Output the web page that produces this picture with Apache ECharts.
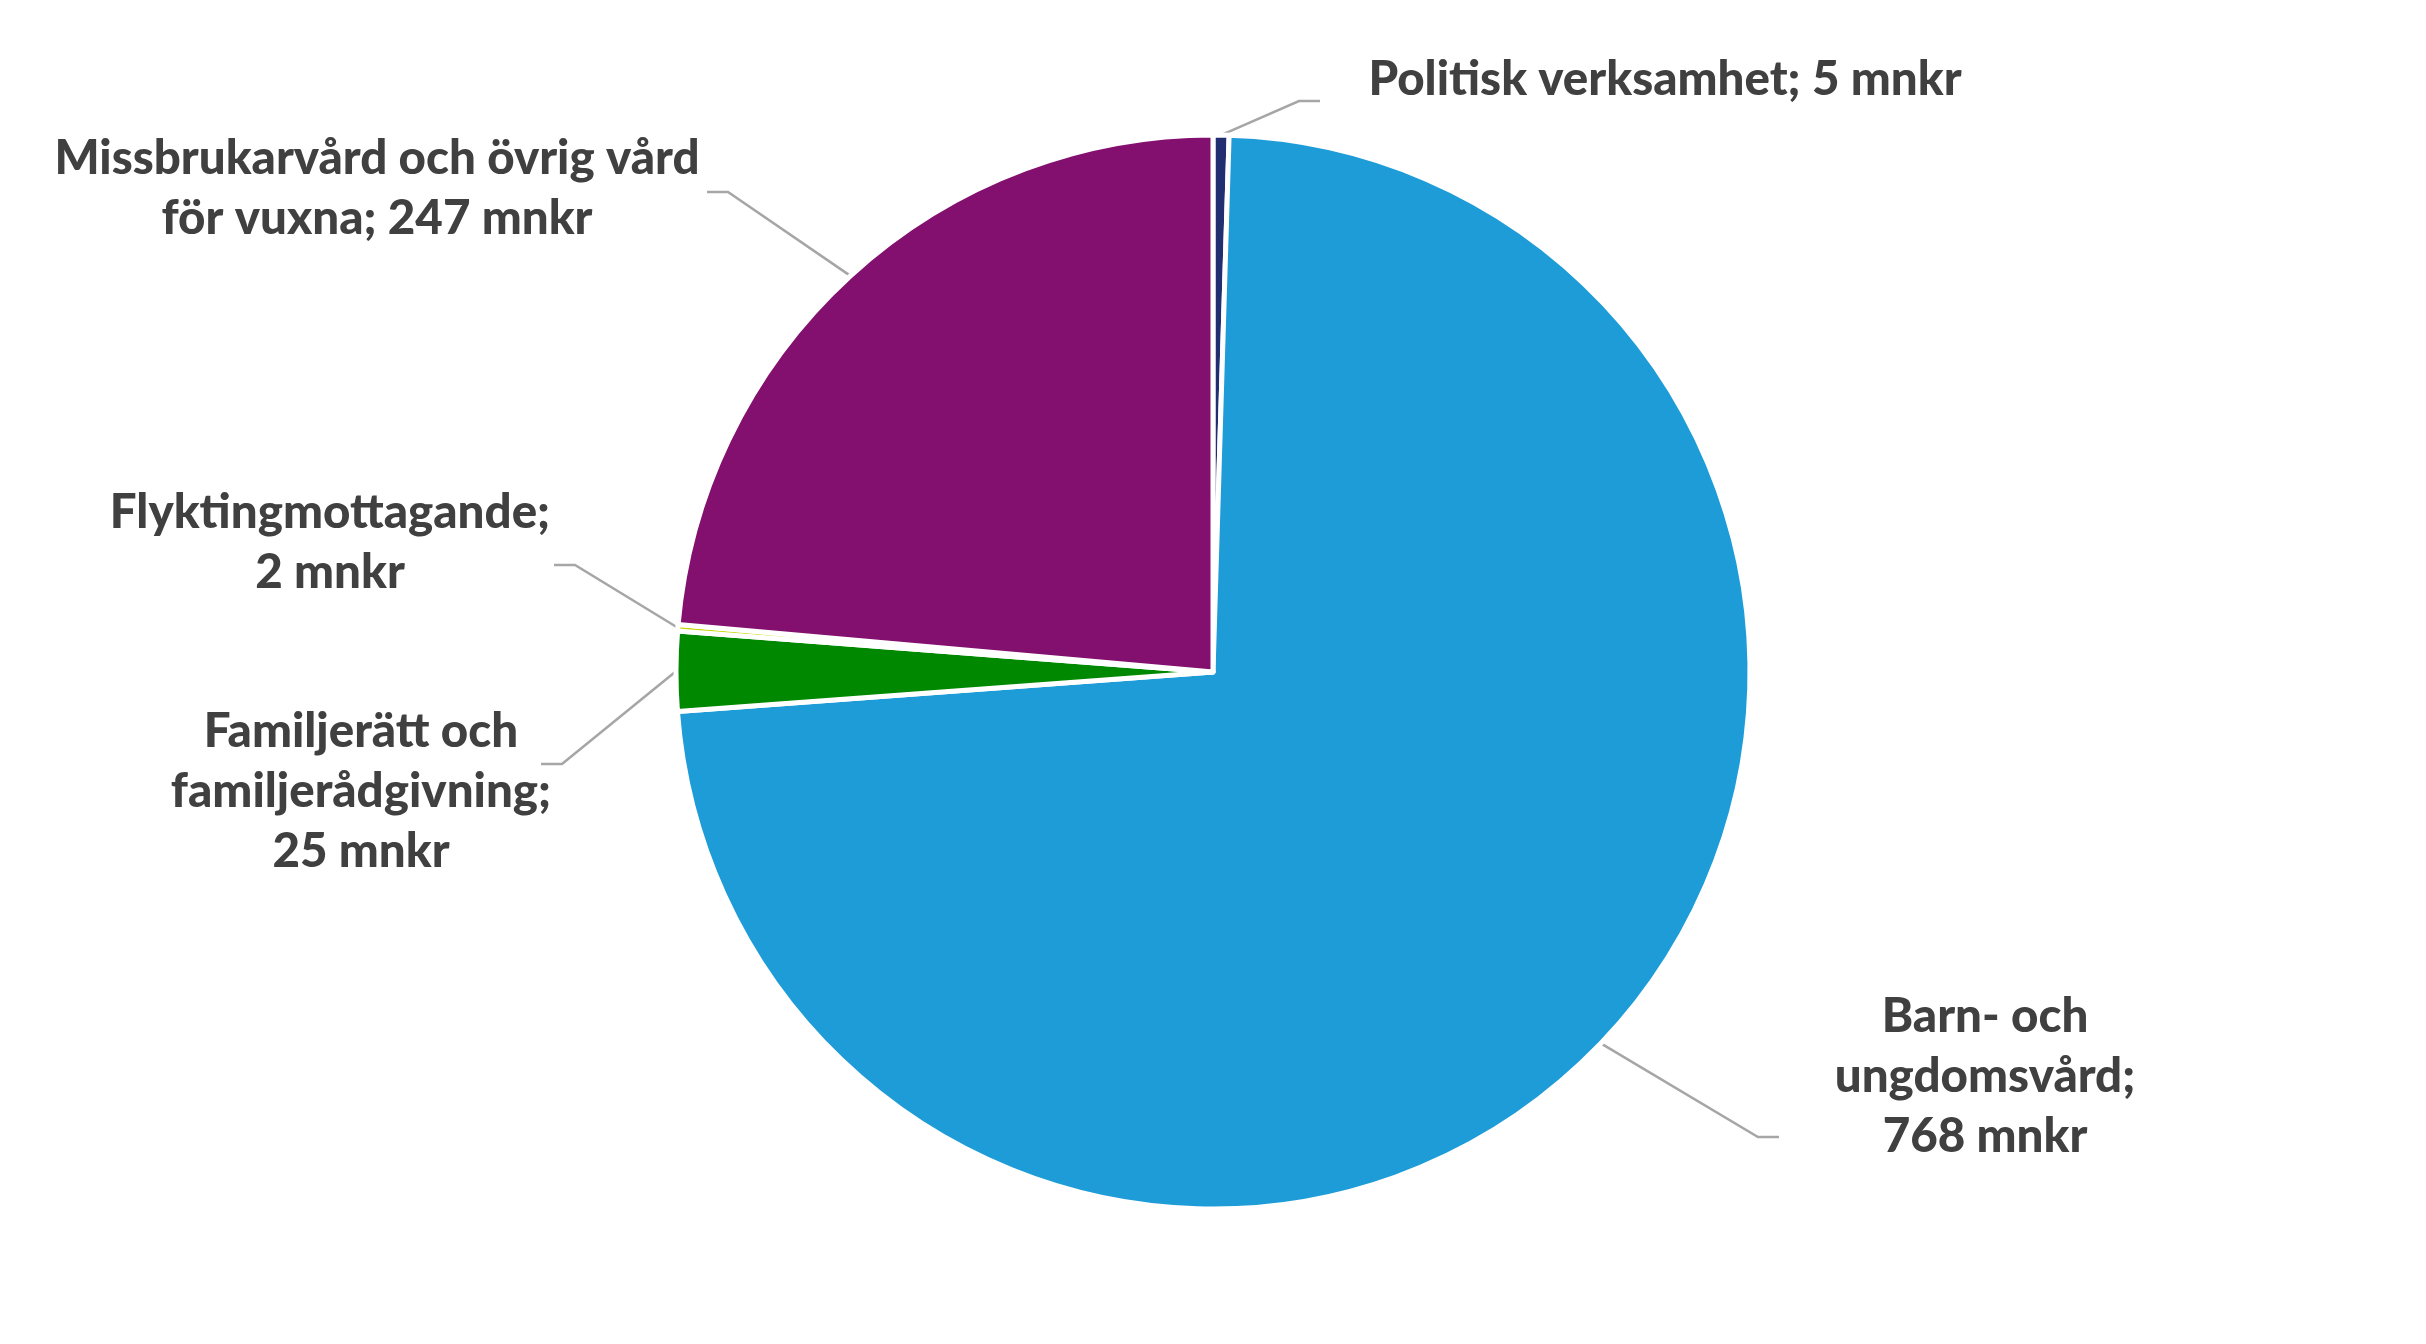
<!DOCTYPE html>
<html><head><meta charset="utf-8">
<script src="https://cdn.jsdelivr.net/npm/echarts@6/dist/echarts.min.js"></script>
<style>html,body{margin:0;padding:0;background:#fff}#c{width:2426px;height:1344px}</style>
</head><body><div id="c"></div>
<script>
// Data (mnkr), clockwise from 12 o'clock
const categories = ['Politisk verksamhet', 'Barn- och\nungdomsvård', 'Familjerätt och\nfamiljerådgivning', 'Flyktingmottagande', 'Missbrukarvård och övrig vård\nför vuxna'];
const values = [5, 768, 25, 2, 247];
const valueSeparators = [' ', '\n', '\n', '\n', ' '];
const unit = 'mnkr';
const colors = ['#212E6F', '#1E9CD8', '#008800', '#C4D600', '#83106E'];

// Label placement (pixels)
const labelCenters = [[1665, 80], [1985, 1077], [361, 792], [330, 543], [377, 189]];
const leaderEnds = [[1320, 101], [1779, 1137], [541, 764], [554, 565], [707, 192]];
const elbowLen = 21;

const chart = echarts.init(document.getElementById('c'), null, {renderer: 'canvas'});
chart.setOption({
  animation: false,
  backgroundColor: '#ffffff',
  series: [{
    type: 'pie',
    center: [1213, 672],
    radius: 537,
    startAngle: 90,
    clockwise: true,
    minAngle: 0,
    avoidLabelOverlap: false,
    emphasis: {disabled: true},
    itemStyle: {borderColor: '#ffffff', borderWidth: 5},
    data: categories.map((n, i) => ({name: n, value: values[i], itemStyle: {color: colors[i]}})),
    label: {
      show: true,
      position: 'outside',
      color: '#404040',
      fontFamily: 'Lato',
      fontWeight: 900,
      fontSize: 47.5,
      lineHeight: 60,
      align: 'center',
      formatter: p => p.name + ';' + valueSeparators[p.dataIndex] + p.value + ' ' + unit
    },
    labelLine: {show: true, length: 20, length2: 20, lineStyle: {color: '#A6A6A6', width: 2.5}},
    labelLayout: function (params) {
      const i = params.dataIndex;
      const c = labelCenters[i];
      const e = leaderEnds[i];
      const start = params.labelLinePoints[0];
      const right = e[0] > start[0];
      const elbow = [e[0] + (right ? -elbowLen : elbowLen), e[1]];
      return {
        x: c[0], y: c[1], align: 'center', verticalAlign: 'middle',
        labelLinePoints: [start, elbow, e]
      };
    }
  }]
});
</script></body></html>
